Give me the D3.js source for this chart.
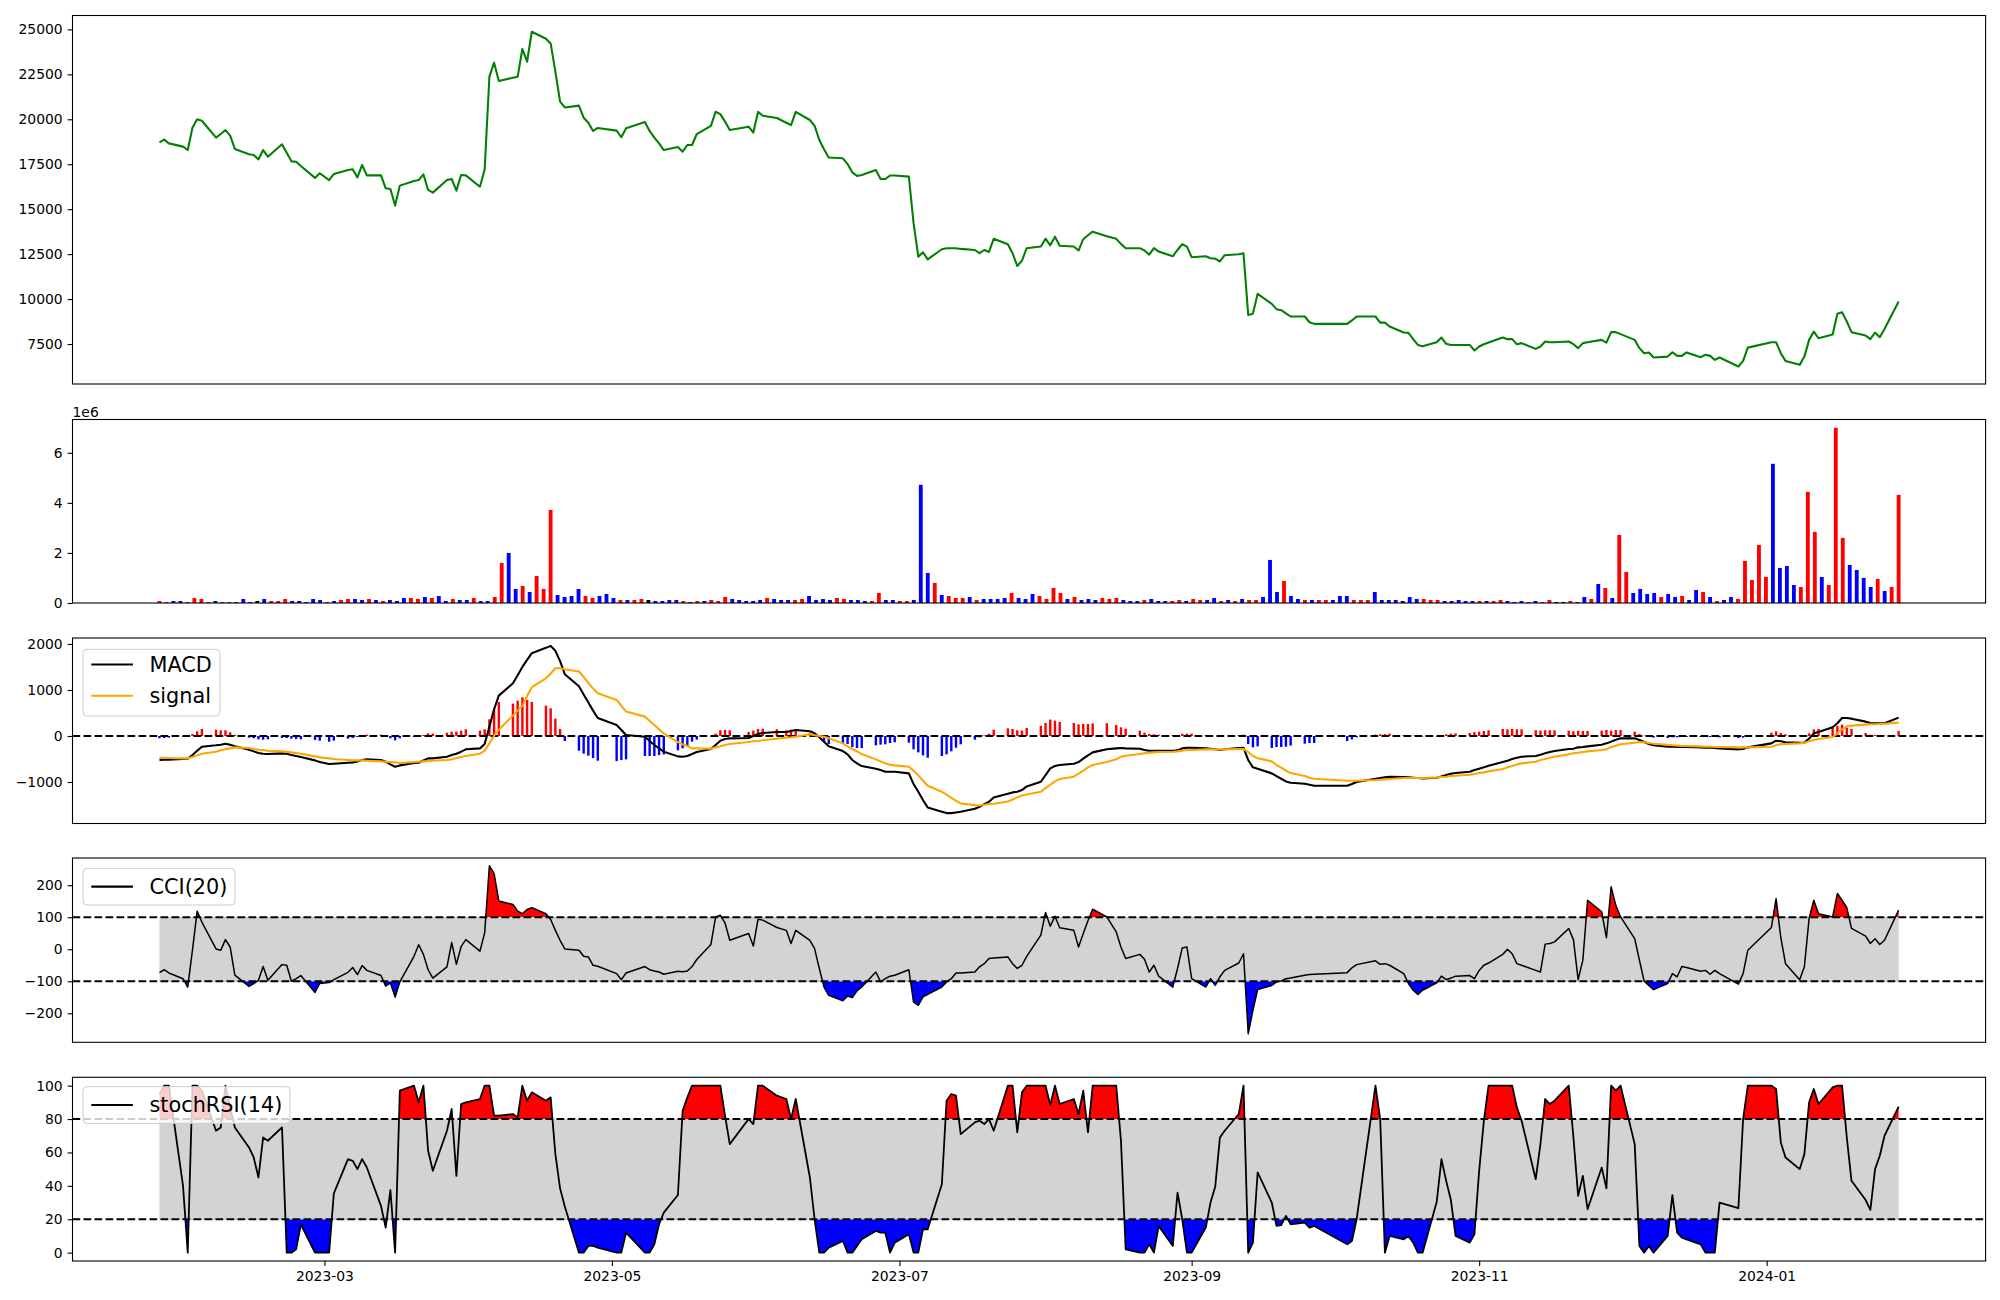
<!DOCTYPE html>
<html><head><meta charset="utf-8">
<script src="https://cdn.jsdelivr.net/npm/d3@7"></script>
<style>
body{margin:0;background:#fff}
svg{display:block}
text{font-family:"DejaVu Sans",sans-serif}
</style>
</head><body>
<svg id="chart" width="2000" height="1300"></svg>
<script>
// ---------------- DATA ----------------
// Trading days (KRX calendar) by month
const tradingDays = {
  "2023-01": [25,26,27,30,31],
  "2023-02": [1,2,3,6,7,8,9,10,13,14,15,16,17,20,21,22,23,24,27,28],
  "2023-03": [2,3,6,7,8,9,10,13,14,15,16,17,20,21,22,23,24,27,28,29,30,31],
  "2023-04": [3,4,5,6,7,10,11,12,13,14,17,18,19,20,21,24,25,26,27,28],
  "2023-05": [2,3,4,8,9,10,11,12,15,16,17,18,19,22,23,24,25,26,30,31],
  "2023-06": [1,2,5,7,8,9,12,13,14,15,16,19,20,21,22,23,26,27,28,29,30],
  "2023-07": [3,4,5,6,7,10,11,12,13,14,17,18,19,20,21,24,25,26,27,28,31],
  "2023-08": [1,2,3,4,7,8,9,10,11,14,16,17,18,21,22,23,24,25,28,29,30,31],
  "2023-09": [1,4,5,6,7,8,11,12,13,14,15,18,19,20,21,22,25,26,27],
  "2023-10": [4,5,6,10,11,12,13,16,17,18,19,20,23,24,25,26,27,30,31],
  "2023-11": [1,2,3,6,7,8,9,10,13,14,15,16,17,20,21,22,23,24,27,28,29,30],
  "2023-12": [1,4,5,6,7,8,11,12,13,14,15,18,19,20,21,22,26,27,28],
  "2024-01": [2,3,4,5,8,9,10,11,12,15,16,17,18,19,22,23,24,25,26,29]
};

const closePrice = [
  18720,18870,18660,18480,18290,
  19530,20000,19920,18980,19180,19400,19090,18350,18050,18010,17770,18290,17920,18610,18140,17660,17640,17400,16740,17000,
  16620,16960,17180,17220,16770,17460,16880,16880,16160,16120,15200,16310,16570,16620,16940,16070,15920,16620,16680,16030,16900,16880,
  16250,17220,22370,23150,22130,22310,22370,23910,23200,24870,24480,24220,22650,20980,20660,20760,20090,19810,19350,19520,
  19370,19000,19500,19850,19350,18980,18660,18290,18460,18200,18570,18570,19180,19630,20420,20290,19870,19400,19590,19260,
  20410,20200,20070,19810,19680,20410,19960,19630,18850,18330,17870,17830,17510,17050,16850,16900,17180,16680,16680,16870,16870,
  16810,14220,12360,12600,12210,12770,12830,12830,12830,12790,12730,12550,12730,12620,13350,13050,12550,11840,12140,12830,12920,
  13360,12990,13470,12970,12920,12700,13330,13550,13750,13490,13350,13070,12830,12830,12700,12470,12830,12640,12380,12730,13050,12920,
  12330,12380,12270,12250,12090,12440,12490,12550,9120,9190,10290,9730,9440,9380,9210,9030,9030,8710,8620,
  8620,8810,9030,9030,8690,8690,8470,8140,8120,7770,7450,7380,7600,7860,7510,7450,7450,7450,7140,
  7360,7490,7580,7860,7770,7770,7490,7550,7230,7360,7640,7600,7600,7640,7490,7270,7550,7600,7730,7580,8160,8160,
  8050,7730,7270,6990,7030,6750,6800,7040,6840,6840,7030,6770,6900,6840,6620,6750,6250,6560,7300,
  7600,7600,6990,6560,6340,6800,7730,8190,7820,8030,9180,9270,8750,8160,7970,7770,8140,7880,8340,9860
];

// Volume in millions of shares (axis offset 1e6)
const volumeM = [
  .08,.04,.08,.08,.04,.2,.16,.04,.08,.04,
  .04,.04,.16,.04,.08,.16,.08,.08,.16,.08,
  .08,.04,.16,.12,.04,.08,.12,.16,.16,.12,
  .16,.12,.08,.12,.08,.2,.2,.16,.24,.2,
  .28,.08,.16,.12,.12,.2,.08,.08,.24,1.6,
  2.0,.56,.68,.44,1.08,.56,3.72,.32,.24,.28,
  .56,.28,.2,.28,.36,.2,.12,.12,.12,.16,
  .12,.08,.08,.12,.12,.08,.04,.08,.08,.12,
  .08,.24,.16,.12,.08,.08,.12,.2,.16,.12,
  .12,.12,.16,.28,.12,.16,.12,.2,.16,.12,
  .12,.08,.08,.4,.12,.12,.08,.08,.12,4.72,
  1.2,.8,.32,.28,.2,.2,.24,.12,.16,.16,
  .16,.2,.4,.2,.16,.36,.28,.16,.6,.4,
  .16,.24,.12,.16,.12,.2,.16,.2,.12,.08,
  .08,.12,.16,.08,.08,.08,.12,.08,.16,.12,
  .12,.2,.08,.12,.08,.16,.12,.12,.24,1.72,
  .44,.88,.28,.16,.12,.12,.12,.12,.12,.28,
  .28,.12,.12,.12,.44,.12,.12,.12,.08,.24,
  .16,.16,.12,.12,.08,.08,.12,.08,.08,.08,
  .08,.08,.12,.08,.04,.08,.04,.08,.04,.12,
  .04,.04,.08,.04,.24,.16,.76,.6,.2,2.72,
  1.24,.4,.56,.36,.4,.24,.36,.24,.28,.12,
  .52,.44,.24,.08,.12,.24,.16,1.68,.92,2.32,
  1.04,5.56,1.4,1.48,.72,.64,4.44,2.84,1.04,.72,
  7.0,2.6,1.52,1.32,1.0,.64,.96,.48,.64,4.32
];
// candle direction per day: r = up, b = down, k = unchanged
const volumeDir = (
  "rrbbrrrrbr" + "rbbbkbrrrb" + "bbbbrbrrbb" + "rbrbbbrrbr" + "bbrbbrbbrr" +
  "bbrbrrrbbb" + "brrbbbrbrr" + "kbbbbrbrbr" + "rrbbbbbrbb" + "brrbbbbrrb" +
  "bbrrbbrrbb" + "brbrrrbrbb" + "bbrbbbrrrr" + "brbbbrrrbb" + "brbbbrrbrr" +
  "bbrbrbrrbb" + "brbbrbrrbb" + "brrrbbbbkb" + "brrrbbbbbr" + "brrbbbrbrr" +
  "kkrbbrbrbr" + "rbbbbrbbrb" + "brbrbbrrrr" + "rbbbbrrrbr" + "rrbbbbrbrr"
).split("");

const macd = [
  -522,-515,-515,-501,-493,
  -414,-319,-232,-203,-189,-167,-189,-225,-298,-334,-370,-385,-392,-377,-385,-414,-435,-457,-530,-566,
  -610,-602,-581,-573,-552,-522,-508,-522,-559,-617,-668,-639,-588,-581,-530,-486,-486,-450,-414,-385,-341,-290,
  -269,-174,203,581,878,1147,1321,1502,1655,1800,1916,1959,1851,1626,1343,1081,900,726,551,392,
  239,131,22,-15,-109,-196,-269,-341,-443,-450,-435,-392,-348,-283,-196,-102,-65,-51,-44,0,
  44,65,87,87,109,131,102,58,-29,-123,-225,-327,-399,-522,-595,-653,-711,-740,-776,-776,-776,
  -813,-1045,-1212,-1393,-1553,-1647,-1676,-1676,-1662,-1647,-1582,-1538,-1480,-1430,-1335,-1255,-1226,-1212,-1176,-1096,-994,
  -849,-704,-653,-631,-602,-566,-493,-421,-356,-290,-269,-261,-269,-276,-305,-319,-319,-319,-319,-312,-269,-254,
  -254,-269,-276,-290,-305,-290,-261,-254,-522,-682,-711,-813,-871,-929,-987,-1016,-1038,-1060,-1081,
  -1081,-1045,-1001,-929,-914,-900,-885,-892,-900,-907,-914,-921,-907,-878,-849,-820,-806,-776,-740,
  -711,-682,-646,-566,-537,-501,-472,-450,-435,-406,-377,-348,-327,-283,-276,-247,-239,-225,-189,-160,-123,-80,
  -51,-51,-87,-131,-174,-203,-232,-232,-239,-239,-239,-247,-254,-254,-261,-269,-290,-283,-247,
  -160,-102,-116,-138,-145,-145,-58,58,87,189,276,392,392,377,312,283,276,276,276,399
];

const signal = [
  -472,-472,-479,-486,-486,
  -457,-421,-385,-341,-312,-290,-269,-247,-261,-283,-298,-305,-319,-334,-341,-356,-370,-385,-443,-464,
  -486,-501,-522,-530,-530,-530,-537,-552,-559,-566,-573,-588,-566,-559,-552,-544,-537,-522,-508,-479,-457,-435,
  -385,-319,-160,7,138,443,552,660,871,1060,1255,1357,1473,1473,1451,1401,1284,1154,1030,929,
  784,653,530,421,327,239,145,58,-131,-181,-218,-269,-269,-276,-247,-225,-196,-174,-131,-116,
  -109,-94,-58,-36,-29,-15,36,15,0,-15,-51,-160,-225,-283,-334,-392,-508,-552,-595,-624,-639,
  -668,-755,-856,-972,-1081,-1212,-1277,-1343,-1408,-1466,-1502,-1509,-1495,-1480,-1473,-1422,-1379,-1335,-1292,-1270,-1212,
  -1132,-1060,-987,-936,-885,-820,-755,-682,-631,-566,-508,-450,-428,-392,-377,-363,-356,-348,-341,-334,-319,-305,
  -305,-290,-290,-290,-290,-290,-283,-283,-348,-435,-486,-552,-631,-689,-755,-806,-871,-907,-929,
  -972,-972,-972,-958,-951,-943,-936,-914,-914,-914,-914,-914,-900,-892,-885,-871,-863,-842,-827,
  -806,-791,-769,-718,-682,-653,-617,-595,-559,-522,-501,-472,-450,-399,-377,-363,-348,-334,-305,-290,-239,-210,
  -181,-145,-131,-138,-152,-167,-189,-203,-210,-218,-218,-225,-232,-232,-239,-239,-247,-247,-247,
  -232,-203,-181,-174,-160,-145,-116,-87,-65,-22,58,145,210,225,247,254,254,261,268,290
];

const cci20 = [
  -73,-64,-74,-92,-118,
  -3,119,85,1,-3,30,7,-81,-116,-107,-97,-54,-97,-48,-50,-100,-92,-82,-135,-107,
  -104,-95,-72,-57,-79,-51,-66,-82,-115,-105,-149,-102,-22,14,-16,-64,-90,-55,21,-47,8,30,
  -6,51,261,236,151,140,119,111,124,130,111,93,59,28,1,-3,-22,-24,-50,-53,
  -76,-95,-74,-54,-64,-68,-71,-78,-69,-70,-68,-54,-32,15,101,106,82,28,49,10,
  94,91,68,59,18,59,28,2,-60,-118,-144,-161,-146,-151,-130,-118,-71,-102,-92,-84,-81,
  -64,-165,-175,-149,-141,-118,-102,-92,-74,-74,-71,-55,-45,-29,-27,-24,-45,-60,-50,-22,44,
  115,72,103,67,59,7,49,89,125,101,54,7,-29,-16,-31,-71,-50,-84,-118,-60,4,7,
  -92,-118,-92,-113,-86,-66,-43,-14,-264,-191,-126,-113,-102,-99,-92,-90,-81,-79,-78,
  -73,-58,-48,-36,-47,-45,-50,-76,-107,-128,-141,-128,-105,-84,-95,-90,-84,-82,-92,
  -66,-50,-43,-16,0,-14,-45,-50,-66,-71,16,18,23,65,30,-95,-34,153,117,36,195,137,
  101,33,-34,-100,-113,-126,-107,-76,-86,-54,-57,-69,-66,-78,-66,-76,-109,-76,-3,
  68,158,36,-45,-95,-55,96,153,111,101,174,153,130,65,41,18,33,15,28,122
];

const stochRsi14 = [
  95,100,100,40,0,
  100,100,97,73,75,100,87,75,63,57,45,69,67,75,0,0,2,17,0,0,
  0,35.5,56,55,50,56,51,28,15,37.5,0,97,100,90,100,61,49,73,86,46,89,90,
  92,100,100,82,82,83,81,100,91,96,91,93,59,38.5,27.6,0,0,4,4,3,
  0,0,12,0,0,5,17,24,34.5,85,93,100,100,100,100,100,82,65,80,77,
  100,100,94,92,80,92,45,20,0,0,3,7,0,0,4,8,13,12,12,0,6,
  11,0,0,14,14,41,91,95,94,71,78,79,77,80,73,100,100,72,96,100,100,
  100,88.5,100,89,92,83,97,72,100,100,100,67,2,0,0,5,0,16,4,36,20,0,
  0,15,30,39.5,69,73,83,100,0,6,48,30,16,16.5,22,17,18,15,16,
  5,7,20,100,80,0,10,8,10,6,0,0,30.5,56,43,31.5,10,6,11,
  49,79,100,100,100,100,87,79,44,65,92,89,91,100,69,34,46,26,51,38.5,100,97,
  100,65,4,0,4,0,10,34.5,12,9,8,5,0,0,0,30,26.6,80,100,
  100,98,66,57,50,59,90,98,89,99,100,100,69,43,31.5,25.6,50,58,70,87.5
];

const priceTicks = [7500,10000,12500,15000,17500,20000,22500,25000];
const volumeTicks = [0,2,4,6];
const macdTicks = [-1000,0,1000,2000];
const cciTicks = [-200,-100,0,100,200];
const stochTicks = [0,20,40,60,80,100];
const xTickLabels = ["2023-03","2023-05","2023-07","2023-09","2023-11","2024-01"];

// ---------------- BUILD ----------------
const dates = [];
for (const [ym, days] of Object.entries(tradingDays)) {
  const [yy, mm] = ym.split("-").map(Number);
  days.forEach(d => dates.push(new Date(yy, mm - 1, d)));
}
const n = dates.length;
const macdHist = macd.map((v, i) => v - signal[i]);

const COL = {green:"#008000", orange:"#ffa500", red:"#ff0000", blue:"#0000ff", gray:"#d3d3d3", black:"#000000"};
const svg = d3.select("#chart");
const L = 72.5, R = 1985.6;
const FS = 13.9;

const span = dates[n-1] - dates[0];
const x = d3.scaleTime()
  .domain([new Date(+dates[0] - span*0.05), new Date(+dates[n-1] + span*0.05)])
  .range([L, R]);
const xi = d3.scaleLinear().domain([-(n-1)*0.05, (n-1)*1.05]).range([L, R]);

const panels = {
  price: {top:15.5, bottom:384, domain:[5276, 25773], ticks:priceTicks},
  vol:   {top:419.5, bottom:603, domain:[0, 7.33], ticks:volumeTicks},
  macd:  {top:638, bottom:823.5, domain:[-1902, 2130], ticks:macdTicks},
  cci:   {top:858, bottom:1042.3, domain:[-290.6, 285], ticks:cciTicks},
  stoch: {top:1077.3, bottom:1261, domain:[-5, 105], ticks:stochTicks}
};

const defs = svg.append("defs");
let clipN = 0;
function clipRect(x0, y0, w, h) {
  const id = "clip" + (clipN++);
  defs.append("clipPath").attr("id", id).append("rect")
    .attr("x", x0).attr("y", y0).attr("width", w).attr("height", h);
  return "url(#" + id + ")";
}

function setup(key) {
  const p = panels[key];
  p.y = d3.scaleLinear().domain(p.domain).range([p.bottom, p.top]);
  p.g = svg.append("g");
  p.plot = p.g.append("g").attr("clip-path", clipRect(L, p.top, R - L, p.bottom - p.top));
  return p;
}

function finishPanel(p, fmt) {
  const ax = p.g.append("g").attr("transform", `translate(${L},0)`)
    .call(d3.axisLeft(p.y).tickValues(p.ticks).tickFormat(fmt).tickSize(4.9).tickPadding(4.9));
  ax.select(".domain").remove();
  ax.selectAll(".tick line").attr("stroke", "#000").attr("stroke-width", 1.1);
  ax.selectAll(".tick text").attr("font-size", FS).attr("fill", "#000")
    .attr("font-family", "DejaVu Sans");
  p.g.append("rect").attr("x", L).attr("y", p.top).attr("width", R - L)
    .attr("height", p.bottom - p.top).attr("fill", "none")
    .attr("stroke", "#000").attr("stroke-width", 1.1);
}

function dashed(p, val) {
  p.plot.append("line").attr("x1", L).attr("x2", R)
    .attr("y1", p.y(val)).attr("y2", p.y(val))
    .attr("stroke", "#000").attr("stroke-width", 2.08)
    .attr("stroke-dasharray", "7.7,3.3");
}

function linePath(p, vals, color, w) {
  p.plot.append("path").datum(vals)
    .attr("fill", "none").attr("stroke", color).attr("stroke-width", w)
    .attr("stroke-linejoin", "round")
    .attr("d", d3.line().x((d, i) => x(dates[i])).y(d => p.y(d)));
}

function band(p, lo, hi) {
  p.plot.append("rect").attr("x", x(dates[0])).attr("width", x(dates[n-1]) - x(dates[0]))
    .attr("y", p.y(hi)).attr("height", p.y(lo) - p.y(hi)).attr("fill", COL.gray);
}

function thresholdFill(p, vals, thr, above, color) {
  const yt = p.y(thr);
  const cp = above ? clipRect(L, p.top, R - L, yt - p.top) : clipRect(L, yt, R - L, p.bottom - yt);
  p.plot.append("g").attr("clip-path", cp).append("path").datum(vals)
    .attr("fill", color).attr("stroke", "none")
    .attr("d", d3.area().x((d, i) => x(dates[i])).y0(yt).y1(d => p.y(d)));
}

function legend(x0, y0, w, h, items) {
  const g = svg.append("g");
  g.append("rect").attr("x", x0).attr("y", y0).attr("width", w).attr("height", h)
    .attr("rx", 4).attr("fill", "#fff").attr("fill-opacity", 0.8)
    .attr("stroke", "#cccccc").attr("stroke-width", 1);
  items.forEach(it => {
    g.append("line").attr("x1", x0 + 8.3).attr("x2", x0 + 49.9)
      .attr("y1", it.cy).attr("y2", it.cy).attr("stroke", it.color).attr("stroke-width", it.w);
    g.append("text").attr("x", x0 + 66.5).attr("y", it.cy).attr("dy", "0.36em")
      .attr("font-size", 20.8).attr("fill", "#000").text(it.label);
  });
}

// ---- Price panel ----
const pp = setup("price");
linePath(pp, closePrice, COL.green, 2.08);
finishPanel(pp, d3.format("d"));

// ---- Volume panel ----
const pv = setup("vol");
const vbw = xi(0.55) - xi(0);
pv.plot.selectAll("rect.v").data(volumeM).join("rect")
  .attr("x", (d, i) => xi(i) - vbw/2).attr("width", vbw)
  .attr("y", d => pv.y(d)).attr("height", d => pv.y(0) - pv.y(d))
  .attr("fill", (d, i) => volumeDir[i] === "r" ? COL.red : volumeDir[i] === "b" ? COL.blue : COL.black);
finishPanel(pv, d3.format("d"));
svg.append("text").attr("x", L).attr("y", 416.5).attr("font-size", FS).text("1e6");

// ---- MACD panel ----
const pm = setup("macd");
const hbw = 2.4;
pm.plot.selectAll("rect.h").data(macdHist).join("rect")
  .attr("x", (d, i) => x(dates[i]) - hbw/2).attr("width", hbw)
  .attr("y", d => Math.min(pm.y(d), pm.y(0))).attr("height", d => Math.abs(pm.y(0) - pm.y(d)))
  .attr("fill", d => d >= 0 ? COL.red : COL.blue);
dashed(pm, 0);
linePath(pm, macd, COL.black, 2.08);
linePath(pm, signal, COL.orange, 2.08);
finishPanel(pm, d3.format("d"));
legend(83, 649.3, 137, 66.7, [
  {label:"MACD", color:COL.black, w:2.08, cy:664.5},
  {label:"signal", color:COL.orange, w:2.08, cy:695.7}
]);

// ---- CCI panel ----
const pc = setup("cci");
band(pc, -100, 100);
thresholdFill(pc, cci20, 100, true, COL.red);
thresholdFill(pc, cci20, -100, false, COL.blue);
dashed(pc, 100);
dashed(pc, -100);
linePath(pc, cci20, COL.black, 1.5);
finishPanel(pc, d3.format("d"));
legend(83, 868.3, 152, 36.7, [{label:"CCI(20)", color:COL.black, w:2.08, cy:886.6}]);

// ---- StochRSI panel ----
const ps = setup("stoch");
band(ps, 20, 80);
thresholdFill(ps, stochRsi14, 80, true, COL.red);
thresholdFill(ps, stochRsi14, 20, false, COL.blue);
dashed(ps, 80);
dashed(ps, 20);
linePath(ps, stochRsi14, COL.black, 1.8);
finishPanel(ps, d3.format("d"));
legend(83, 1086.7, 207, 36.7, [{label:"stochRSI(14)", color:COL.black, w:2.08, cy:1105}]);

// ---- X axis (bottom) ----
const xTickDates = xTickLabels.map(s => { const [a, b] = s.split("-").map(Number); return new Date(a, b - 1, 1); });
const xa = svg.append("g").attr("transform", `translate(0,${panels.stoch.bottom})`)
  .call(d3.axisBottom(x).tickValues(xTickDates).tickFormat(d3.timeFormat("%Y-%m")).tickSize(4.9).tickPadding(4.9));
xa.select(".domain").remove();
xa.selectAll(".tick line").attr("stroke", "#000").attr("stroke-width", 1.1);
xa.selectAll(".tick text").attr("font-size", FS).attr("fill", "#000").attr("font-family", "DejaVu Sans");
</script>
</body></html>
